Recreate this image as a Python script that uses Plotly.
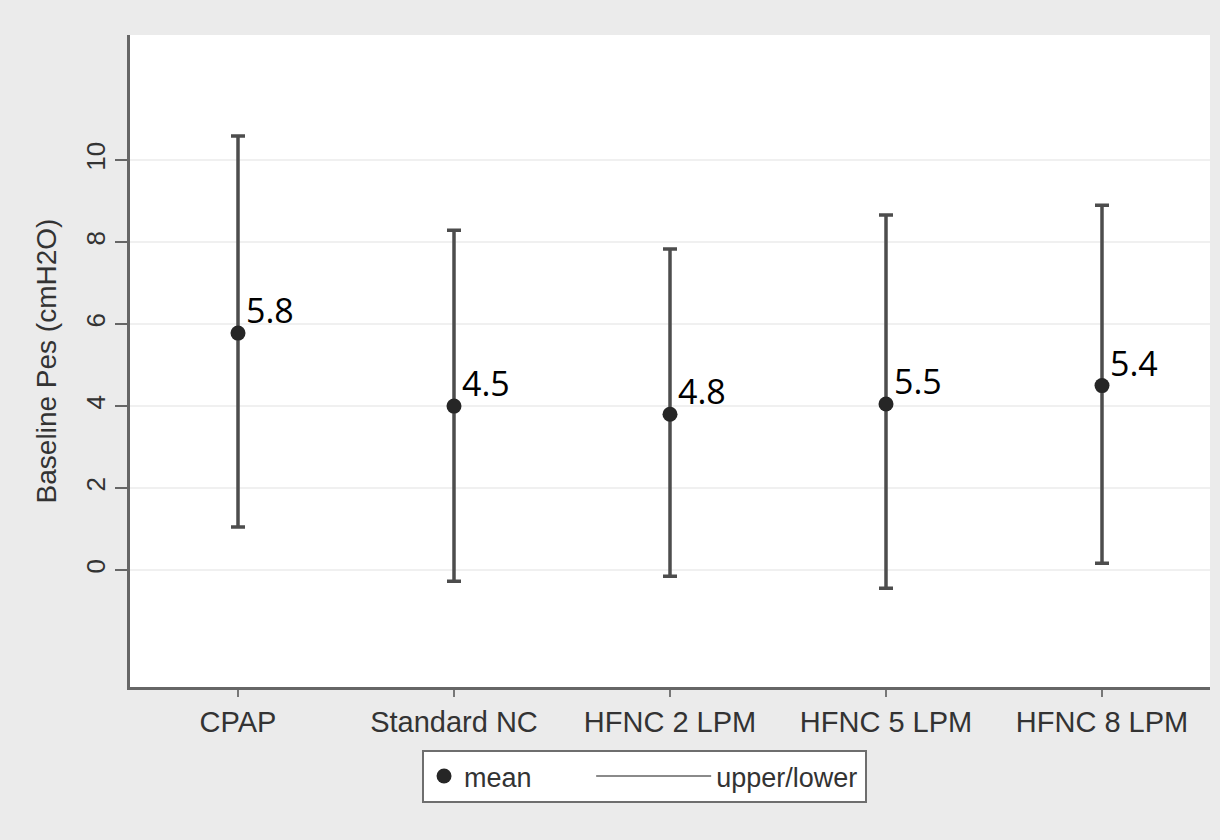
import plotly.graph_objects as go

categories = ["CPAP", "Standard NC", "HFNC 2 LPM", "HFNC 5 LPM", "HFNC 8 LPM"]
means = [5.78, 4.0, 3.8, 4.05, 4.5]
upper = [10.59, 8.29, 7.83, 8.66, 8.9]
lower = [1.05, -0.27, -0.15, -0.44, 0.17]
labels = ["5.8", "4.5", "4.8", "5.5", "5.4"]
yticks = [0, 2, 4, 6, 8, 10]

idx = list(range(len(categories)))
err_plus = [u - m for u, m in zip(upper, means)]
err_minus = [m - l for m, l in zip(means, lower)]

fig = go.Figure()
# error bars (upper/lower)
fig.add_trace(go.Scatter(
    x=idx, y=means, mode="markers", name="upper/lower",
    marker=dict(size=0.1, color="rgba(0,0,0,0)"),
    error_y=dict(type="data", symmetric=False, array=err_plus, arrayminus=err_minus,
                 color="#4d4d4d", thickness=3.5, width=7),
    showlegend=False, hoverinfo="skip"))
# mean dots
fig.add_trace(go.Scatter(
    x=idx, y=means, mode="markers", name="mean",
    marker=dict(size=15, color="#262626"), showlegend=True, legend="legend"))
# legend entry for upper/lower
fig.add_trace(go.Scatter(
    x=[None], y=[None], mode="lines", name="upper/lower",
    line=dict(color="#8a8a8a", width=2), showlegend=True, legend="legend2"))

for i, lab in enumerate(labels):
    fig.add_annotation(x=idx[i], y=means[i], text=lab, showarrow=False,
                       xanchor="left", yanchor="middle", xshift=6, yshift=23,
                       font=dict(family="Open Sans", size=34, color="#000"))

fig.update_layout(
    width=1220, height=840,
    margin=dict(l=130, r=10, t=35, b=153),
    paper_bgcolor="#ebebeb", plot_bgcolor="#ffffff",
    font=dict(family="Liberation Sans", size=28, color="#333"),
    legend=dict(orientation="h", x=0.2704, xanchor="left", y=-0.0966, yanchor="top",
                bgcolor="#ffffff", bordercolor="#6e6e6e", borderwidth=2,
                font=dict(size=27, color="#333"), itemwidth=30,
                entrywidth=396, entrywidthmode="pixels"),
    legend2=dict(orientation="h", x=0.427, xanchor="left", y=-0.0997, yanchor="top",
                 bgcolor="rgba(0,0,0,0)", borderwidth=0,
                 font=dict(size=27, color="#333"), itemwidth=115),
    xaxis=dict(range=[-0.5, 4.5], tickmode="array", tickvals=idx, ticktext=categories,
               showgrid=False, zeroline=False, showline=True, linecolor="#666", linewidth=3,
               ticks="outside", ticklen=7, tickwidth=2, tickcolor="#777",
               tickfont=dict(size=29, color="#333")),
    yaxis=dict(range=[-2.85, 13.05], tickmode="array", tickvals=yticks,
               showgrid=True, gridcolor="#f0f0f0", gridwidth=2, zeroline=False,
               showline=True, linecolor="#666", linewidth=3,
               ticks="outside", ticklen=12, tickwidth=2, tickcolor="#666",
               tickangle=-90, tickfont=dict(size=26, color="#333"),
               title=dict(text="Baseline Pes (cmH2O)", font=dict(size=28, color="#333"), standoff=16)),
)

fig.write_html("out.html")
